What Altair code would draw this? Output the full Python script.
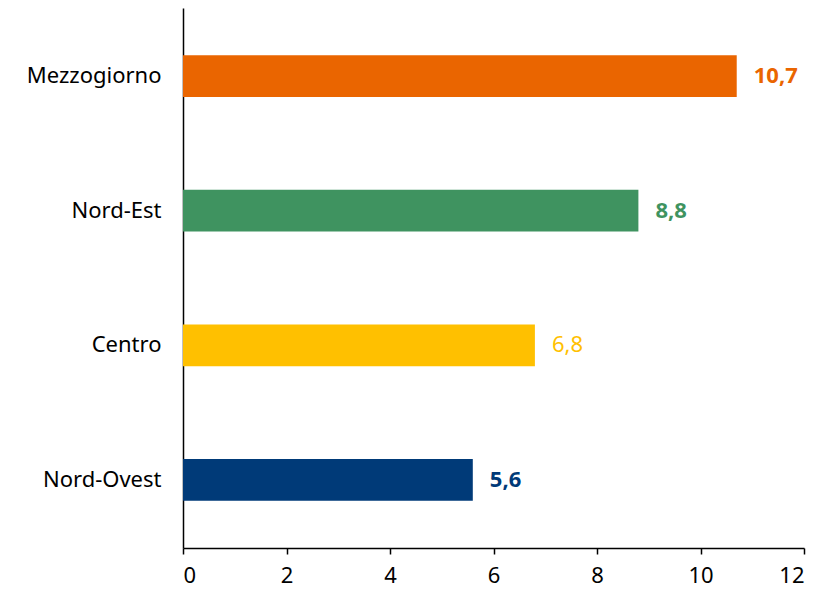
import altair as alt
import pandas as pd

regions = ["Mezzogiorno", "Nord-Est", "Centro", "Nord-Ovest"]
values = [10.7, 8.8, 6.8, 5.6]
bar_colors = ["#EA6500", "#3F9360", "#FFC000", "#003A78"]
label_colors = ["#EA6500", "#3F9360", "#E8B820", "#003A78"]
bold = [True, True, False, True]
x_ticks = [0, 2, 4, 6, 8, 10, 12]

df = pd.DataFrame({"region": regions, "value": values, "bold": bold})

FONT = "Noto Sans"

y_enc = alt.Y("region:N", sort=regions,
              scale=alt.Scale(paddingInner=0.69, paddingOuter=0.35),
              axis=alt.Axis(title=None, ticks=False, domainColor="black", domainWidth=1.5,
                            labelFontSize=22, labelColor="black", labelPadding=22,
                            labelFont=FONT))
x_enc = alt.X("value:Q", scale=alt.Scale(domain=[0, 12], nice=False),
              axis=alt.Axis(title=None, values=x_ticks, grid=False, domainColor="black",
                            domainWidth=1.5, tickColor="black", tickSize=6, tickWidth=1.5,
                            labelFontSize=22, labelColor="black", labelPadding=11,
                            labelFont=FONT))

bars = alt.Chart(df).mark_bar().encode(
    y=y_enc, x=x_enc,
    color=alt.Color("region:N", scale=alt.Scale(domain=regions, range=bar_colors), legend=None),
)

base_text = alt.Chart(df).transform_calculate(
    lab="replace(format(datum.value, '.1f'), '.', ',')"
)
text_color = alt.Color("region:N", scale=alt.Scale(domain=regions, range=label_colors), legend=None)

txt_bold = base_text.transform_filter("datum.bold").mark_text(
    align="left", baseline="middle", dx=17, fontSize=22, fontWeight="bold", font=FONT
).encode(y=alt.Y("region:N", sort=regions), x="value:Q", text="lab:N", color=text_color)

txt_norm = base_text.transform_filter("!datum.bold").mark_text(
    align="left", baseline="middle", dx=17, fontSize=22, font=FONT
).encode(y=alt.Y("region:N", sort=regions), x="value:Q", text="lab:N", color=text_color)

chart = alt.layer(bars, txt_bold, txt_norm).properties(
    width=621, height=540,
    background="white",
    autosize=alt.AutoSizeParams(type="none"),
    padding={"left": 183, "top": 8, "right": 17, "bottom": 45},
).configure_view(stroke=None)

chart.save("out.html", embed_options={"renderer": "svg", "actions": False})
